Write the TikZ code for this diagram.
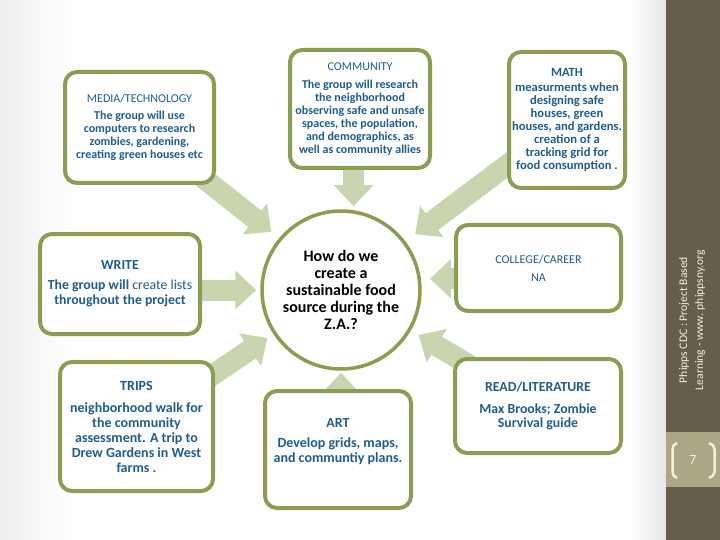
\documentclass[tikz,border=0pt]{standalone}
\usepackage{fontspec}
\setmainfont{Carlito}
\usetikzlibrary{arrows.meta,calc,backgrounds}
\definecolor{bordergreen}{HTML}{8A9E51}
\definecolor{arrowgreen}{HTML}{C8D5AE}
\definecolor{txtblue}{HTML}{1F5E8C}
\definecolor{sidebar}{HTML}{655F4A}
\definecolor{pagebox}{HTML}{AAA787}
\definecolor{cream}{HTML}{F2EFDA}
\definecolor{stripgray}{HTML}{E6E6E8}
\lineskiplimit=-20pt
\begin{document}
\begin{tikzpicture}[x=1pt,y=-1pt,
  box/.style={draw=bordergreen, line width=4pt, rounded corners=12pt, fill=white,
    text=txtblue, align=center, inner sep=0pt},
  hubst/.style={circle, draw=bordergreen, line width=3.5pt, fill=white, align=center,
    inner sep=0pt, minimum size=158pt, font=\fontsize{16}{17}\selectfont\bfseries},
  blk/.style={draw=arrowgreen, line width=21pt, -{Triangle[width=38pt,length=21pt]}},
  small/.style={font=\fontsize{12}{13}\selectfont\bfseries},
  mid/.style={font=\fontsize{13.8}{15.5}\selectfont\bfseries},
  big/.style={font=\fontsize{14}{15}\selectfont\bfseries}]
\useasboundingbox (0,0) rectangle (720,540);

% nodes
\node[hubst] (hub) at (341,290) {How do we\\create a\\sustainable food\\source during the\\Z.A.?};
\node[box, small, minimum width=149pt, minimum height=111pt] (media) at (139.5,127.5)
  {{\mdseries MEDIA/TECHNOLOGY}\\[4pt]The group will use\\computers to research\\zombies, gardening,\\creating green houses etc};
\node[box, small, minimum width=140pt, minimum height=118pt] (community) at (360,109)
  {{\mdseries COMMUNITY}\\[5pt]The group will research\\the neighborhood\\observing safe and unsafe\\spaces, the population,\\and demographics, as\\well as community allies};
\node[box, font=\fontsize{12.6}{13}\selectfont\bfseries, minimum width=116pt, minimum height=136pt] (math) at (567,120)
  {MATH\\[2pt]measurments when\\designing safe\\houses, green\\houses, and gardens.\\creation of a\\tracking grid for\\food consumption .};
\node[box, mid, minimum width=160pt, minimum height=100pt] (write) at (120,284)
  {WRITE\\[4pt]The group will {\mdseries create lists}\\throughout the project};
\node[box, font=\fontsize{12}{18}\selectfont, minimum width=165pt, minimum height=86pt] (college) at (538.5,268)
  {COLLEGE/CAREER\\NA};
\node[box, big, minimum width=153pt, minimum height=129pt] (trips) at (136.5,426.5)
  {TRIPS\\[7pt]neighborhood walk for\\the community\\assessment. A trip to\\Drew Gardens in West\\farms .};
\node[box, minimum width=146pt, minimum height=117pt] (art) at (338,449.5) {};
\node[text=txtblue, align=center, font=\fontsize{14}{14.5}\selectfont\bfseries] (arttext) at ($(art.center)+(0,-8)$)
  {ART\\[6pt]Develop grids, maps,\\and communtiy plans.};
\node[box, font=\fontsize{13.8}{14.5}\selectfont\bfseries, minimum width=166pt, minimum height=94pt] (read) at (538,406)
  {READ/LITERATURE\\[7pt]Max Brooks; Zombie\\Survival guide};

% background: shading and arrows
\begin{scope}[on background layer]
  \shade[left color=black!7, right color=white] (0,0) rectangle (70,540);
  \shade[left color=white, right color=stripgray] (630,0) rectangle (666,540);
  \draw[blk, shorten >=10pt] (media.center) -- (hub.140);
  \draw[blk, shorten >=4pt] (community.center -| hub.81) -- (hub.81);
  \draw[blk, shorten >=12pt] (math.center) -- (hub.37);
  \draw[blk, shorten >=4pt] (write.center |- hub.west) -- (hub.west);
  \draw[blk, shorten >=9pt] (college.center |- hub.8.5) -- (hub.8.5);
  \draw[blk, shorten >=7pt] (trips.center) -- (hub.213);
  \draw[blk, shorten >=2pt] (art.center -| hub.south) -- (hub.south);
  \draw[blk, shorten >=9pt] (read.center) -- (hub.-30);
\end{scope}

% sidebar
\fill[sidebar] (666,0) rectangle (720,540);
\fill[pagebox] (666,432) rectangle (720,487);
\node[rotate=90, text=cream, align=center, font=\fontsize{11.6}{16}\selectfont] (credit) at (692,320)
  {Phipps CDC : Project Based\\Learning - www. phippsny.org};
\node[text=cream, font=\fontsize{14}{14}\selectfont] (pnum) at (693,460) {7};
\draw[cream, line width=2.5pt] (677,443) to[out=200,in=90] (672.5,449) -- (672.5,472) to[out=-90,in=160] (677,478);
\draw[cream, line width=2.5pt] (709,443) to[out=-20,in=90] (714.5,449) -- (714.5,472) to[out=-90,in=20] (709,478);
\end{tikzpicture}
\end{document}
